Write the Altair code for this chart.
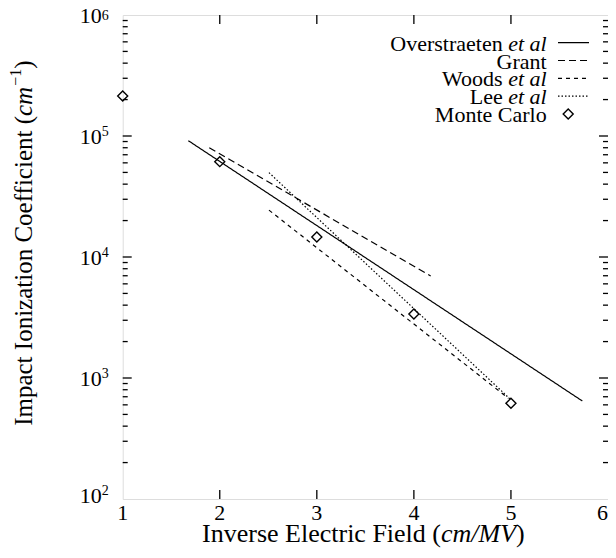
import altair as alt
import pandas as pd

# ---------------- data ----------------
series_names = ["Overstraeten", "Grant", "Woods", "Lee"]
overstraeten_x = [1.676, 5.735]
overstraeten_y = [9.15e4, 646.0]
grant_x = [1.892, 4.173]
grant_y = [8.0e4, 6970.0]
woods_x = [2.507, 4.973]
woods_y = [2.44e4, 680.0]
lee_x = [2.507, 5.0]
lee_y = [4.98e4, 660.0]

mc_x = [1, 2, 3, 4, 5]
mc_y = [2.14e5, 6.14e4, 1.46e4, 3380.0, 618.0]

legend_keys = ["Overstraeten", "Grant", "Woods", "Lee", "Monte Carlo"]
legend_roman = ["Overstraeten", "Grant", "Woods", "Lee", "Monte Carlo"]
legend_italic = ["et al", "", "et al", "et al", ""]

x_tick_values = [1, 2, 3, 4, 5, 6]
x_tick_labels = ["1", "2", "3", "4", "5", "6"]
x_inner_ticks = [2, 3, 4, 5]
y_major_values = [1e2, 1e3, 1e4, 1e5, 1e6]
y_label_base = ["10", "10", "10", "10", "10"]
y_label_exp = ["2", "3", "4", "5", "6"]
minor_mult = [2, 3, 4, 5, 6, 7, 8, 9]

# ---------------- tables ----------------
rows = []
for name, xs_, ys_ in zip(series_names,
                          [overstraeten_x, grant_x, woods_x, lee_x],
                          [overstraeten_y, grant_y, woods_y, lee_y]):
    for a, b in zip(xs_, ys_):
        rows.append({"series": name, "x": a, "y": b})
lines_df = pd.DataFrame(rows)
mc_df = pd.DataFrame({"x": mc_x, "y": mc_y})

ymaj_df = pd.DataFrame({"v": y_major_values[1:-1]})
ymin_df = pd.DataFrame({"v": [m * d for d in y_major_values[:-1] for m in minor_mult]})
xin_df = pd.DataFrame({"v": x_inner_ticks})
ylab_df = pd.DataFrame({"v": y_major_values, "base": y_label_base, "exp": y_label_exp})
xlab_df = pd.DataFrame({"v": x_tick_values, "t": x_tick_labels})
leg_df = pd.DataFrame({"series": legend_keys, "roman": legend_roman,
                       "italic": legend_italic, "idx": list(range(len(legend_keys)))})

# ---------------- styles ----------------
W, H = 485.3, 484
FONT = "Liberation Serif"
xs = alt.Scale(domain=[1, 6], nice=False, zero=False)
ys = alt.Scale(type="log", domain=[100, 1e6], nice=False)
dash_scale = alt.Scale(domain=series_names, range=[[1, 0], [7, 4], [4, 4], [1.5, 2]])
X = alt.X("x:Q", scale=xs, axis=None)
Y = alt.Y("y:Q", scale=ys, axis=None)

lines = alt.Chart(lines_df).mark_line(color="black", strokeWidth=1.2).encode(
    x=X, y=Y,
    strokeDash=alt.StrokeDash("series:N", scale=dash_scale, legend=None),
)
points = alt.Chart(mc_df).mark_point(shape="diamond", size=100, filled=False,
                                     color="black", strokeWidth=1.4, opacity=1).encode(x=X, y=Y)


def yrule(df, x1, x2):
    return alt.Chart(df).mark_rule(color="black", strokeWidth=1.3).encode(
        x=alt.value(x1), x2=alt.value(x2), y=alt.Y("v:Q", scale=ys, axis=None))


def xrule(df, y1, y2):
    return alt.Chart(df).mark_rule(color="black", strokeWidth=1.3).encode(
        y=alt.value(y1), y2=alt.value(y2), x=alt.X("v:Q", scale=xs, axis=None))


ticks = [
    yrule(ymaj_df, 0, 9), yrule(ymin_df, 0, 5),
    yrule(ymaj_df, W, W - 9), yrule(ymin_df, W, W - 5),
    xrule(xin_df, H, H - 9), xrule(xin_df, 0, 9),
]


def ylabels(filt, dy_base, dy_exp):
    src = alt.Chart(ylab_df).transform_filter(filt)
    base = src.mark_text(font=FONT, fontSize=22, align="right", baseline="alphabetic",
                         dy=dy_base, color="black").encode(
        x=alt.value(-21), y=alt.Y("v:Q", scale=ys, axis=None), text="base:N")
    exp = src.mark_text(font=FONT, fontSize=14, align="left", baseline="alphabetic",
                        dy=dy_exp, color="black").encode(
        x=alt.value(-21), y=alt.Y("v:Q", scale=ys, axis=None), text="exp:N")
    return [base, exp]


ylab_layers = (
    ylabels("datum.v > 5e5", 7.5, 5)
    + ylabels("datum.v > 500 && datum.v < 5e5", 7.5, -0.5)
    + ylabels("datum.v < 500", 4, -4)
)

xlab_mid = alt.Chart(xlab_df).transform_filter("datum.v < 6").mark_text(
    font=FONT, fontSize=22, align="center", baseline="alphabetic", color="black").encode(
    x=alt.X("v:Q", scale=xs, axis=None), y=alt.value(H + 21), text="t:N")
xlab_end = alt.Chart(xlab_df).transform_filter("datum.v == 6").mark_text(
    font=FONT, fontSize=22, align="right", baseline="alphabetic", color="black").encode(
    x=alt.X("v:Q", scale=xs, axis=None), y=alt.value(H + 21), text="t:N")


def piece(text, x, y, size, style="normal", align="left", angle=0, baseline="alphabetic"):
    return alt.Chart(pd.DataFrame({"t": [text]})).mark_text(
        font=FONT, fontSize=size, fontStyle=style, align=align, angle=angle,
        baseline=baseline, color="black").encode(
        text="t:N", x=alt.value(x), y=alt.value(y))


# x-axis title: "Inverse Electric Field (cm/MV)"
XF = 26
xj = 318.3
XT = H + 43
x_title = [
    piece("Inverse Electric Field (", xj, XT, XF, align="right"),
    piece("cm/MV", xj, XT, XF, style="italic"),
    piece(")", xj + 2.888 * XF, XT, XF),
]
# y-axis title: "Impact Ionization Coefficient (cm^-1)"
YF = 25
yj = 101
ycx = -98.3
w_cm = 1.166 * YF
y_title = [
    piece("Impact Ionization Coefficient (", ycx, yj, YF, align="right", angle=270, baseline="middle"),
    piece("cm", ycx, yj, YF, style="italic", angle=270, baseline="middle"),
    piece("\u22121", ycx - 8, yj - w_cm - 1, 16, angle=270, baseline="middle"),
    piece(")", ycx, yj - w_cm - 18, YF, angle=270, baseline="middle"),
]

# legend
leg_base = alt.Chart(leg_df).transform_calculate(
    ypx="27.7 + 17.8 * datum.idx",
    xr="datum.italic ? 380 : 424",
)
leg_roman = leg_base.mark_text(font=FONT, fontSize=22, align="right", baseline="alphabetic",
                               dy=8, color="black").encode(
    x=alt.X("xr:Q", scale=None, axis=None), y=alt.Y("ypx:Q", scale=None, axis=None), text="roman:N")
leg_italic = leg_base.transform_filter("datum.italic != ''").mark_text(
    font=FONT, fontSize=22, fontStyle="italic", align="right", baseline="alphabetic",
    dy=8, color="black").encode(
    x=alt.value(424), y=alt.Y("ypx:Q", scale=None, axis=None), text="italic:N")
leg_lines = leg_base.transform_filter("datum.idx < 4").mark_rule(color="black", strokeWidth=1.2).encode(
    x=alt.value(435.3), x2=alt.value(466.3), y=alt.Y("ypx:Q", scale=None, axis=None),
    strokeDash=alt.StrokeDash("series:N", scale=dash_scale, legend=None))
leg_diamond = leg_base.transform_filter("datum.idx == 4").mark_point(
    shape="diamond", size=100, filled=False, color="black", strokeWidth=1.4, opacity=1).encode(
    x=alt.value(445.5), y=alt.Y("ypx:Q", scale=None, axis=None))

chart = alt.layer(
    lines, points, *ticks, *ylab_layers, xlab_mid, xlab_end, *x_title, *y_title,
    leg_roman, leg_italic, leg_lines, leg_diamond,
).properties(
    width=W, height=H,
    autosize=alt.AutoSizeParams(type="none"),
    padding={"left": 114.7, "top": 7, "right": 0, "bottom": 51},
).configure_view(stroke="black", strokeWidth=1.5).configure(background="white")

chart.save("out.html", embed_options={"renderer": "svg", "actions": False})
